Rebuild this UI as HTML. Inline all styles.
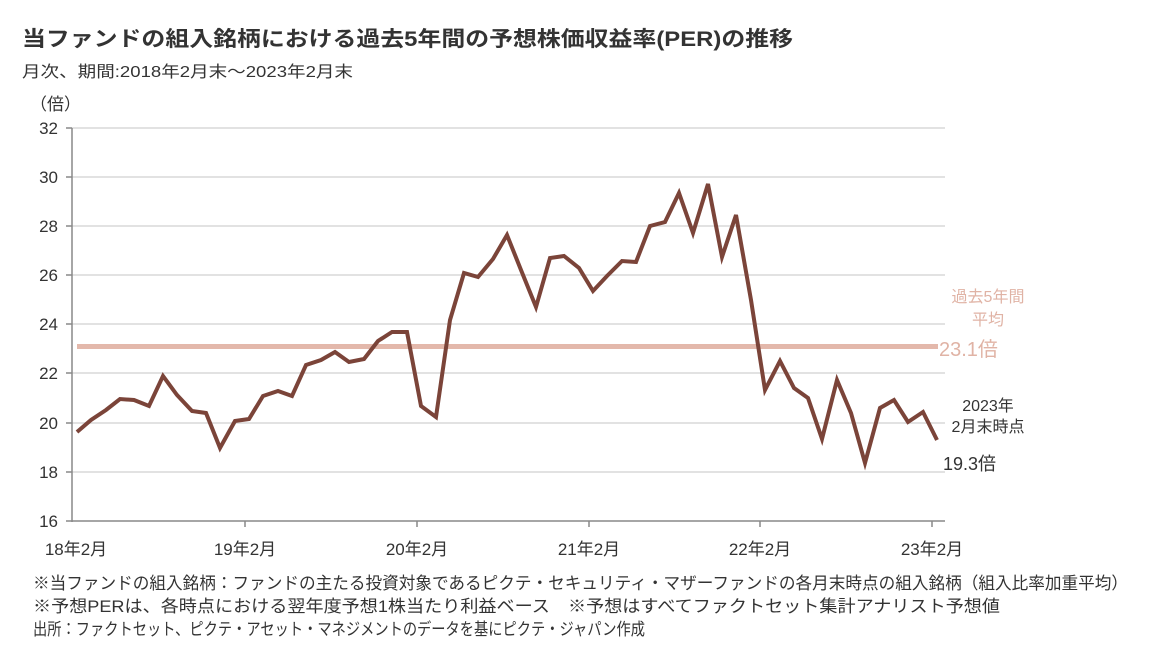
<!DOCTYPE html>
<html><head><meta charset="utf-8"><style>
body{margin:0;background:#fff;font-family:"Liberation Sans","Noto Sans CJK JP",sans-serif;}
</style></head><body>
<svg width="1168" height="646" xmlns="http://www.w3.org/2000/svg" font-family="'Liberation Sans','Noto Sans CJK JP',sans-serif">
<text x="22" y="46" font-size="21" font-weight="bold" fill="#333" textLength="771" lengthAdjust="spacingAndGlyphs">当ファンドの組入銘柄における過去5年間の予想株価収益率(PER)の推移</text>
<text x="22" y="77" font-size="16" fill="#333" textLength="331" lengthAdjust="spacingAndGlyphs">月次、期間:2018年2月末～2023年2月末</text>
<text x="30" y="110" font-size="17" fill="#333">（倍）</text>
<g stroke="#e2e2e2" stroke-width="2">
<line x1="72" x2="945" y1="128" y2="128"/><line x1="72" x2="945" y1="177" y2="177"/><line x1="72" x2="945" y1="226" y2="226"/><line x1="72" x2="945" y1="275" y2="275"/><line x1="72" x2="945" y1="324" y2="324"/><line x1="72" x2="945" y1="373" y2="373"/><line x1="72" x2="945" y1="423" y2="423"/><line x1="72" x2="945" y1="472" y2="472"/>
</g>
<g stroke="#888" stroke-width="1.5">
<line x1="72" x2="72" y1="128" y2="522"/><line x1="72" x2="945" y1="521" y2="521"/>
<line x1="66" x2="72" y1="128" y2="128"/><line x1="66" x2="72" y1="177" y2="177"/><line x1="66" x2="72" y1="226" y2="226"/><line x1="66" x2="72" y1="275" y2="275"/><line x1="66" x2="72" y1="324" y2="324"/><line x1="66" x2="72" y1="373" y2="373"/><line x1="66" x2="72" y1="423" y2="423"/><line x1="66" x2="72" y1="472" y2="472"/><line x1="66" x2="72" y1="521" y2="521"/>
<line x1="245" x2="245" y1="521" y2="527"/><line x1="417" x2="417" y1="521" y2="527"/><line x1="589" x2="589" y1="521" y2="527"/><line x1="760" x2="760" y1="521" y2="527"/><line x1="932" x2="932" y1="521" y2="527"/>
</g>
<g font-size="17" fill="#333" text-anchor="end">
<text x="58" y="134">32</text><text x="58" y="183">30</text><text x="58" y="232">28</text><text x="58" y="281">26</text><text x="58" y="330">24</text><text x="58" y="379">22</text><text x="58" y="429">20</text><text x="58" y="478">18</text><text x="58" y="527">16</text>
</g>
<g font-size="17" fill="#333" text-anchor="middle">
<text x="76" y="555">18年2月</text><text x="245" y="555">19年2月</text><text x="417" y="555">20年2月</text><text x="589" y="555">21年2月</text><text x="760" y="555">22年2月</text><text x="932" y="555">23年2月</text>
</g>
<line x1="77" x2="938" y1="346.5" y2="346.5" stroke="#e3b8ab" stroke-width="5"/>
<polyline fill="none" stroke="#7b4439" stroke-width="4" stroke-linejoin="miter" points="77,432 91,420 106,410 120,399 134,400 149,406 163,376 177,395 192,411 206,413 220,448 235,421 249,419 263,396 278,391 292,396 306,365 321,360 335,352 349,362 364,359 378,341 392,332 407,332 421,406 436,417 450,320 464,273 478,277 493,259 507,235 521,270 536,307 550,258 564,256 579,268 593,291 607,276 622,261 636,262 650,226 665,222 679,193 693,233 708,184 722,257 736,215 751,300 765,390 780,361 794,388 808,398 822,439 837,380 851,413 865,463 880,408 894,400 908,422 923,412 937,440"/>
<g font-size="16" fill="#e0b3a5" text-anchor="middle">
<text x="988" y="302">過去5年間</text><text x="988" y="325">平均</text>
</g>
<text x="939" y="356" font-size="20" fill="#e0b3a5">23.1倍</text>
<g font-size="16" fill="#333" text-anchor="middle">
<text x="988" y="411">2023年</text><text x="988" y="432">2月末時点</text>
</g>
<text x="943" y="470" font-size="18" fill="#333">19.3倍</text>
<g font-size="17" fill="#333">
<text x="33" y="589" textLength="1095" lengthAdjust="spacingAndGlyphs">※当ファンドの組入銘柄：ファンドの主たる投資対象であるピクテ・セキュリティ・マザーファンドの各月末時点の組入銘柄（組入比率加重平均）</text>
<text x="33" y="612" textLength="967" lengthAdjust="spacingAndGlyphs">※予想PERは、各時点における翌年度予想1株当たり利益ベース　※予想はすべてファクトセット集計アナリスト予想値</text>
<text x="33" y="635" textLength="612" lengthAdjust="spacingAndGlyphs">出所：ファクトセット、ピクテ・アセット・マネジメントのデータを基にピクテ・ジャパン作成</text>
</g>
</svg>
</body></html>
